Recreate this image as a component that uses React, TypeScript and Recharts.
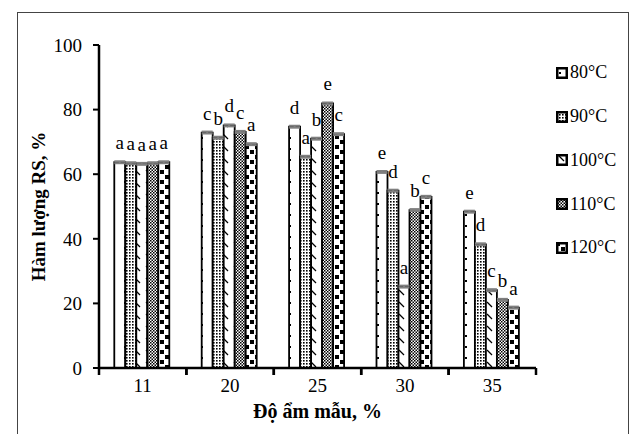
import { Bar, BarChart, ErrorBar, LabelList, Legend, XAxis, YAxis } from 'recharts'

const moisture = ['11', '20', '25', '30', '35']
const tempNames = ['80°C', '90°C', '100°C', '110°C', '120°C']
const rs80 = [63.7, 72.9, 74.7, 60.7, 48.4]
const rs90 = [63.4, 71.3, 65.4, 54.9, 38.3]
const rs100 = [63.2, 75.1, 71.0, 25.2, 24.1]
const rs110 = [63.4, 73.1, 81.9, 48.9, 21.1]
const rs120 = [63.7, 69.3, 72.4, 53.0, 18.7]
const sig80 = ['a', 'c', 'd', 'e', 'e']
const sig90 = ['a', 'b', 'a', 'd', 'd']
const sig100 = ['a', 'd', 'b', 'a', 'c']
const sig110 = ['a', 'c', 'e', 'b', 'b']
const sig120 = ['a', 'a', 'c', 'c', 'a']
const sd = [0.3, 0.3, 0.3, 0.3, 0.3]
const yTicks = [0, 20, 40, 60, 80, 100]

const font = 'Liberation Serif, Times New Roman, serif'

const W = 632
const H = 434
const plotLeft = 99
const plotRight = 536
const bandW = (plotRight - plotLeft) / moisture.length

const data = moisture.map((m, i) => ({
  m,
  t80: rs80[i],
  t90: rs90[i],
  t100: rs100[i],
  t110: rs110[i],
  t120: rs120[i],
  s80: sig80[i],
  s90: sig90[i],
  s100: sig100[i],
  s110: sig110[i],
  s120: sig120[i],
  sd: sd[i],
}))

const series = [
  { key: 't80', sig: 's80', name: tempNames[0], fill: 'url(#p80)' },
  { key: 't90', sig: 's90', name: tempNames[1], fill: 'url(#p90)' },
  { key: 't100', sig: 's100', name: tempNames[2], fill: 'url(#p100)' },
  { key: 't110', sig: 's110', name: tempNames[3], fill: 'url(#p110)' },
  { key: 't120', sig: 's120', name: tempNames[4], fill: 'url(#p120)' },
]

function Patterns() {
  return (
    <svg width={0} height={0} style={{ position: 'absolute' }}>
      <defs>
        <pattern id='p80' width={11} height={11} patternUnits='userSpaceOnUse'>
          <rect width={11} height={11} fill='#fff' />
          <rect x={3} y={5} width={2} height={2} fill='#000' />
        </pattern>
        <pattern id='p90' width={3} height={3} patternUnits='userSpaceOnUse'>
          <rect width={3} height={3} fill='#fff' />
          <rect x={0} y={0} width={1.6} height={1.6} fill='#000' />
        </pattern>
        <pattern id='p100' width={11} height={12} patternUnits='userSpaceOnUse'>
          <rect width={11} height={12} fill='#fff' />
          <line x1={3} y1={2} x2={8} y2={7} stroke='#000' strokeWidth={1.2} />
        </pattern>
        <pattern id='p110' width={3} height={3} patternUnits='userSpaceOnUse'>
          <rect width={3} height={3} fill='#fff' />
          <rect x={0} y={0} width={1.5} height={1.5} fill='#000' />
          <rect x={1.5} y={1.5} width={1.5} height={1.5} fill='#000' />
        </pattern>
        <pattern id='p120' width={10} height={10} patternUnits='userSpaceOnUse'>
          <rect width={10} height={10} fill='#fff' />
          <rect x={0} y={0} width={4} height={4} fill='#000' />
          <rect x={5} y={5} width={4} height={4} fill='#000' />
        </pattern>
      </defs>
    </svg>
  )
}

const CatTick = (props: any) => {
  const { x, y, payload } = props
  const half = bandW / 2
  return (
    <g>
      <line x1={x - half} x2={x - half} y1={y - 10} y2={y - 3} stroke='#000' strokeWidth={2.5} />
      <line x1={x + half} x2={x + half} y1={y - 10} y2={y - 3} stroke='#000' strokeWidth={2.5} />
      <text x={x} y={y} dy='0.75em' textAnchor='middle' fontSize={19} style={{ fontFamily: font }} fill='#000'>
        {payload.value}
      </text>
    </g>
  )
}

const renderLegend = () => (
  <div style={{ fontFamily: font, fontSize: 18, color: '#000' }}>
    {series.map((s) => (
      <div key={s.key} style={{ height: 43.75, display: 'flex', alignItems: 'center' }}>
        <svg width={12} height={12} style={{ marginRight: 2 }}>
          <rect x={1.25} y={1.25} width={9.5} height={9.5} fill={s.fill} stroke='#000' strokeWidth={2.5} />
        </svg>
        <span>{s.name}</span>
      </div>
    ))}
  </div>
)

export default function App() {
  return (
    <div
      style={{
        position: 'absolute',
        left: 0,
        top: 0,
        width: W,
        height: H,
        overflow: 'hidden',
        background: '#fff',
        fontFamily: font,
      }}
    >
      <Patterns />
      <div
        style={{
          position: 'absolute',
          left: 17,
          top: 12,
          width: 610,
          height: 460,
          border: '1px solid #444',
        }}
      />
      <div style={{ position: 'absolute', left: 0, top: 0 }}>
        <BarChart
          width={W}
          height={H}
          data={data}
          margin={{ top: 45, right: W - plotRight, bottom: 0, left: 0 }}
          barGap={0}
          barCategoryGap='17.5%'
          style={{ fontFamily: font }}
        >
          <XAxis
            dataKey='m'
            height={H - 45 - 323}
            interval={0}
            tickLine={false}
            tickSize={7}
            tickMargin={3}
            axisLine={{ stroke: '#000', strokeWidth: 2.5 }}
            tick={<CatTick />}
            label={{
              content: (p: any) => {
                const vb = p.viewBox
                return (
                  <text
                    x={vb.x + vb.width / 2}
                    y={vb.y + 50}
                    textAnchor='middle'
                    fontSize={20}
                    fontWeight='bold'
                    style={{ fontFamily: font }}
                    fill='#000'
                  >
                    Độ ẩm mẫu, %
                  </text>
                )
              },
            }}
          />
          <YAxis
            domain={[0, 100]}
            ticks={yTicks}
            width={plotLeft}
            tickSize={6}
            tickMargin={11}
            axisLine={{ stroke: '#000', strokeWidth: 2.5 }}
            tickLine={{ stroke: '#000', strokeWidth: 2 }}
            tick={{ fill: '#000', fontSize: 19, style: { fontFamily: font } }}
            label={{
              content: (p: any) => {
                const vb = p.viewBox
                const cx = vb.x + 38
                const cy = vb.y + vb.height / 2
                return (
                  <text
                    x={cx}
                    y={cy}
                    dy='0.35em'
                    transform={`rotate(-90, ${cx}, ${cy})`}
                    textAnchor='middle'
                    fontSize={19}
                    fontWeight='bold'
                    style={{ fontFamily: font }}
                    fill='#000'
                  >
                    Hàm lượng RS, %
                  </text>
                )
              },
            }}
          />
          <Legend
            layout='vertical'
            align='center'
            verticalAlign='middle'
            wrapperStyle={{ left: 556, top: 51, width: 76 }}
            content={renderLegend}
          />
          {series.map((s) => (
            <Bar
              key={s.key}
              dataKey={s.key}
              name={s.name}
              fill={s.fill}
              stroke='#000'
              strokeWidth={1.8}
              isAnimationActive={false}
            >
              <ErrorBar dataKey='sd' width={5.5} stroke='#7f7f7f' strokeWidth={2} direction='y' />
              <LabelList
                dataKey={s.sig}
                position='top'
                offset={13}
                fill='#000'
                fontSize={19}
                style={{ fontFamily: font }}
              />
            </Bar>
          ))}
        </BarChart>
      </div>
    </div>
  )
}
